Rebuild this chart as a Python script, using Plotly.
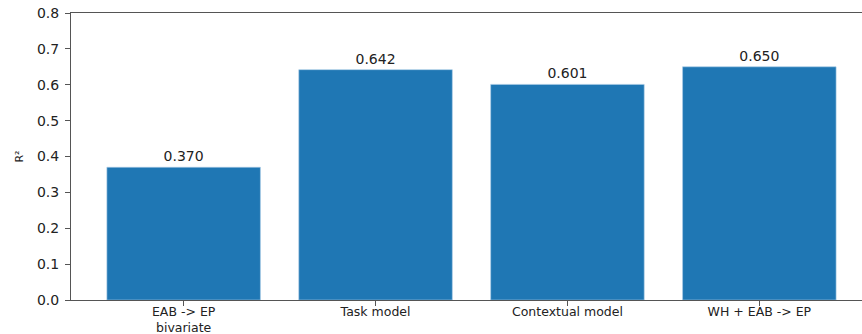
import plotly.graph_objects as go

categories = ["EAB -> EP<br>bivariate", "Task model", "Contextual model", "WH + EAB -> EP"]
r2_values = [0.370, 0.642, 0.601, 0.650]
value_labels = ["0.370", "0.642", "0.601", "0.650"]
y_ticks = [0.0, 0.1, 0.2, 0.3, 0.4, 0.5, 0.6, 0.7, 0.8]

FONT = "DejaVu Sans"

fig = go.Figure(go.Bar(
    x=list(range(len(categories))),
    y=r2_values,
    width=0.8,
    marker=dict(color="#1f77b4", line=dict(color="#a9cbe6", width=0.6)),
    text=value_labels,
    textposition="outside",
    textfont=dict(family=FONT, size=14, color="#222"),
    cliponaxis=False,
))

fig.update_layout(
    width=862, height=334,
    margin=dict(l=71, r=0, t=13, b=34),
    paper_bgcolor="white", plot_bgcolor="white",
    showlegend=False,
    font=dict(family=FONT, size=14, color="#222"),
)
fig.update_xaxes(
    range=[-0.587, 3.535],
    tickvals=list(range(len(categories))),
    ticktext=categories,
    showline=True, linecolor="#555", linewidth=1, mirror=True,
    ticks="outside", ticklen=5, tickcolor="#555",
    ticklabelstandoff=-5,
    showgrid=False, zeroline=False, automargin=False,
    tickfont=dict(family=FONT, size=12.5, color="#222"),
)
fig.update_yaxes(
    range=[0, 0.8],
    tickvals=y_ticks,
    ticktext=[f"{v:.1f}" for v in y_ticks],
    showline=True, linecolor="#555", linewidth=1,
    ticks="outside", ticklen=5, tickcolor="#555",
    ticklabelstandoff=3,
    showgrid=False, zeroline=False, automargin=False,
    tickfont=dict(family=FONT, size=14, color="#222"),
    title=dict(text="R²", font=dict(family=FONT, size=11, color="#222"), standoff=11),
)

fig.write_html("out.html")
